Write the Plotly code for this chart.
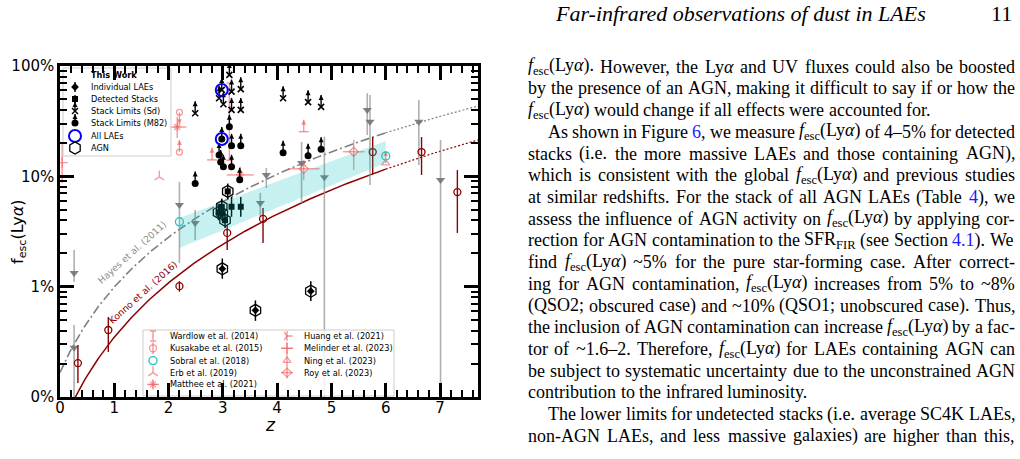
import numpy as np
import plotly.graph_objects as go

# ---------------- data (f_esc in percent) ----------------
# This work: stack lower limits (Sd template)
sd_z = [3.12, 2.98, 3.16, 3.33, 2.93, 3.01, 3.16, 3.33, 2.49, 4.11, 4.57, 4.81]
sd_f = [83.0, 60.7, 58.6, 61.7, 51.0, 45.0, 40.0, 40.0, 37.3, 51.0, 47.0, 42.6]
# This work: stack lower limits (M82 template)
m82_z = [3.12, 2.98, 3.16, 3.33, 2.93, 2.96, 3.01, 3.16, 3.31, 2.49, 4.11, 4.57, 4.81]
m82_f = [28.2, 21.8, 18.9, 18.9, 15.6, 13.5, 12.2, 12.2, 9.3, 8.6, 16.4, 15.4, 17.6]
# This work: all-LAE stacks (blue rings)
all_z = [2.98, 2.98]
all_f = [60.7, 21.8]
# This work: detected stacks
det_z = [3.16, 3.33, 3.09, 2.98, 2.92, 2.99, 3.04]
det_f = [5.3, 5.3, 7.3, 5.3, 4.7, 4.6, 4.0]
det_hi = [6.5, 6.5, 8.6, 6.3, 5.6, 5.4, 4.7]
det_lo = [4.3, 4.3, 6.2, 4.5, 4.0, 3.9, 3.4]
# This work: individual LAEs
ind_z = [2.99, 3.60, 4.62]
ind_f = [1.45, 0.61, 0.91]
ind_hi = [1.80, 0.75, 1.12]
ind_lo = [1.18, 0.49, 0.74]
# AGN (hexagons)
agn_z = [3.09, 2.98, 2.92, 2.99, 3.04, 2.99, 3.60, 4.62]
agn_f = [7.3, 5.3, 4.7, 4.6, 4.0, 1.45, 0.61, 0.91]

# Dark-red literature points
kon_z = [0.33, 0.89, 2.20, 3.08, 3.74, 5.76, 6.66, 7.32]
kon_f = [0.203, 0.405, 1.01, 3.07, 4.11, 16.6, 16.6, 7.2]
kon_hi = [0.296, 0.531, 1.12, 3.6, 5.17, 22.7, 22.7, 11.4]
kon_lo = [0.134, 0.256, 0.90, 2.15, 2.49, 10.5, 10.3, 3.07]

# Grey literature points
gry_z = [0.26, 0.26, 2.20, 2.49, 3.69, 3.80, 4.45, 4.87, 5.66, 5.71, 6.61, 7.01]
gry_f = [1.33, 0.28, 5.5, 3.78, 5.74, 10.3, 13.2, 9.8, 40.0, 31.3, 31.3, 9.27]
gry_hi = [2.15, 0.45, 8.9, 4.95, 7.08, 11.9, 20.5, 22.9, 56.7, 54.7, 49.3, 21.4]
gry_lo = [1.10, 0.05, 1.64, 2.65, 4.28, 7.85, 5.74, 0.05, 23.7, 8.36, 12.7, 0.05]

# Other literature
war_z, war_f, war_hi, war_lo = [3.12], [30.0], [70.0], [14.0]
kus_up_z, kus_up_f = [2.20], [38.0]          # upper limit
kus_lo_z, kus_lo_f = [2.20], [16.6]          # lower limit
sob_z, sob_f = [2.20, 6.00], [3.87, 15.3]
erb_z, erb_f = [1.83], [9.9]
mat_z, mat_f = [2.16, 3.32], [28.0, 10.3]
mat_xe = [0.17, 0.25]
mat_hi, mat_lo = [34.6, 12.2], [22.3, 8.7]
hua_z, hua_f = [2.80, 4.49], [14.1, 25.4]    # lower limits
mel_z, mel_f, mel_hi, mel_lo = [0.04], [13.3], [20.1], [8.7]
nin_z, nin_f = [6.00], [13.2]                # lower limit
roy_z, roy_f = [4.49, 5.41], [11.7, 16.7]
roy_xe = [0.29, 0.2]
roy_hi, roy_lo = [14.1, 21.4], [9.3, 11.4]

# Sobral et al. (2018) band
band_z = [2.2, 6.0]
band_lo = [2.24, 13.2]
band_hi = [4.2, 20.9]

# Model relations f = C (1+z)^xi  [percent]
hayes_C, hayes_xi = 0.167, 2.57
konno_C, konno_xi = 0.05, 2.8

# axis ticks
x_ticks = [0, 1, 2, 3, 4, 5, 6, 7]
y_ticks = [0.1, 1, 10, 100]
y_ticklabels = ["0%", "1%", "10%", "100%"]
y_minor = [0.2, 0.3, 0.4, 0.5, 0.6, 0.7, 0.8, 0.9, 2, 3, 4, 5, 6, 7, 8, 9,
           20, 30, 40, 50, 60, 70, 80, 90]

# ---------------- page geometry ----------------
W, H = 1020, 459
L, R, T, B = 60, 478, 66, 397


def PX(px):
    return (px - L) / (R - L)


def PY(py):
    return (B - py) / (B - T)


BLACK = "#000000"
GREY_M = "rgba(115,115,115,0.9)"
GREY_L = "rgba(150,150,150,0.75)"
DRED = "#8b0000"
PINK = "rgba(240,90,90,0.62)"
CYAN = "#2ec4c4"
ARW = 10 ** (12 / 110.3)  # arrow length factor (12 px on the log axis)

fig = go.Figure()


def yerr(f, hi, lo, color, th=1.5, width=0):
    return dict(type="data", symmetric=False,
                array=[h - v for h, v in zip(hi, f)],
                arrayminus=[v - l for v, l in zip(f, lo)],
                color=color, thickness=th, width=width)


def add(x, y, **kw):
    kw.setdefault("mode", "markers")
    fig.add_trace(go.Scatter(x=x, y=y, showlegend=False, hoverinfo="skip", **kw))


def limits(z, f, color, up=True, th=1.4, size=6):
    if up:
        e = dict(type="data", symmetric=False, array=[v * (ARW - 1) for v in f],
                 arrayminus=[0] * len(f), color=color, thickness=th, width=0)
        add(z, [v * ARW for v in f], marker=dict(symbol="arrow-up", size=size, color=color))
    else:
        e = dict(type="data", symmetric=False, arrayminus=[v * (1 - 1 / ARW) for v in f],
                 array=[0] * len(f), color=color, thickness=th, width=0)
        add(z, [v / ARW for v in f], marker=dict(symbol="arrow-down", size=size, color=color))
    return e


# ---- models ----
zs = np.linspace(0.0, 6.0, 200)
ze = np.linspace(6.0, 7.7, 60)
add(zs, hayes_C * (1 + zs) ** hayes_xi, mode="lines",
    line=dict(color="rgb(128,128,128)", width=1.6, dash="9px,3px,2px,3px"))
add(ze, hayes_C * (1 + ze) ** hayes_xi, mode="lines",
    line=dict(color="rgb(128,128,128)", width=1.2, dash="2px,2px"))
add(zs, konno_C * (1 + zs) ** konno_xi, mode="lines", line=dict(color=DRED, width=1.5))
add(ze, konno_C * (1 + ze) ** konno_xi, mode="lines",
    line=dict(color=DRED, width=1.2, dash="2px,2px"))

# ---- grey points ----
add(gry_z, gry_f, marker=dict(symbol="triangle-down", size=8, color=GREY_M),
    error_y=yerr(gry_f, gry_hi, gry_lo, GREY_L, 1.6))

# ---- dark red points ----
add(kon_z, kon_f, marker=dict(symbol="circle-open", size=7, color=DRED, line=dict(width=1.3)),
    error_y=yerr(kon_f, kon_hi, kon_lo, DRED, 1.4))

# ---- pink literature ----
add(war_z, war_f, marker=dict(size=1, color=PINK),
    error_y=yerr(war_f, war_hi, war_lo, PINK, 1.4, 3))
add(mel_z, mel_f, marker=dict(symbol="cross-thin", size=8, color=PINK, line=dict(width=1.3, color=PINK)),
    error_y=yerr(mel_f, mel_hi, mel_lo, PINK, 1.4))
e = limits(kus_up_z, kus_up_f, PINK, up=False, size=5)
add(kus_up_z, kus_up_f, marker=dict(symbol="circle-open", size=6, color=PINK, line=dict(width=1.3)), error_y=e)
e = limits(kus_lo_z, kus_lo_f, PINK, up=True, size=5)
add(kus_lo_z, kus_lo_f, marker=dict(symbol="circle-open", size=6, color=PINK, line=dict(width=1.3)), error_y=e)
add(erb_z, erb_f, marker=dict(symbol="y-up", size=8, color=PINK, line=dict(width=1.4, color=PINK)))
add(mat_z, mat_f, marker=dict(symbol="asterisk", size=7, color=PINK, line=dict(width=1.2, color=PINK)),
    error_y=yerr(mat_f, mat_hi, mat_lo, PINK, 1.4),
    error_x=dict(type="data", array=mat_xe, color=PINK, thickness=1.4, width=0))
e = limits(hua_z, hua_f, PINK, up=True, size=5)
add(hua_z, hua_f, marker=dict(symbol="line-ew", size=7, color=PINK, line=dict(width=1.5, color=PINK)), error_y=e)
e = limits(nin_z, nin_f, PINK, up=True, size=5)
add(nin_z, nin_f, marker=dict(symbol="triangle-up-open", size=7, color=PINK, line=dict(width=1.3)), error_y=e)
add(roy_z, roy_f, marker=dict(symbol="diamond-open", size=7, color=PINK, line=dict(width=1.3)),
    error_y=yerr(roy_f, roy_hi, roy_lo, PINK, 1.4),
    error_x=dict(type="data", array=roy_xe, color=PINK, thickness=1.4, width=0))

# ---- this work ----
e = limits(sd_z, sd_f, BLACK, up=True, size=5)
add(sd_z, sd_f, marker=dict(symbol="x-thin", size=6, color=BLACK, line=dict(width=1.6, color=BLACK)), error_y=e)
e = limits(m82_z, m82_f, BLACK, up=True, size=5)
add(m82_z, m82_f, marker=dict(symbol="circle", size=7, color=BLACK), error_y=e)
add(det_z, det_f, marker=dict(symbol="square", size=6, color=BLACK),
    error_y=yerr(det_f, det_hi, det_lo, BLACK, 1.5))
add(ind_z, ind_f, marker=dict(symbol="diamond", size=6, color=BLACK),
    error_y=yerr(ind_f, ind_hi, ind_lo, BLACK, 1.5))
add(agn_z, agn_f, marker=dict(symbol="hexagon-open", size=12, color=BLACK, line=dict(width=1.3)))

# ---- Sobral band (drawn over the points) ----
add(band_z + band_z[::-1], band_lo + band_hi[::-1], mode="lines", fill="toself",
    fillcolor="rgba(0,191,191,0.22)", line=dict(width=0))
add(sob_z, sob_f, marker=dict(symbol="circle-open", size=8, color=CYAN, line=dict(width=1.4)))
add(all_z, all_f, marker=dict(symbol="circle-open", size=12, color="#0000ff", line=dict(width=2)))

# ---------------- legends (overlay axes in plot fractions) ----------------


def ladd(px, py, **kw):
    kw.setdefault("mode", "markers")
    fig.add_trace(go.Scatter(x=[PX(px)], y=[PY(py)], xaxis="x2", yaxis="y2",
                             showlegend=False, hoverinfo="skip", **kw))


def lbox(x0, y0, x1, y1):
    fig.add_trace(go.Scatter(x=[PX(x0), PX(x1), PX(x1), PX(x0), PX(x0)],
                             y=[PY(y0), PY(y0), PY(y1), PY(y1), PY(y0)],
                             xaxis="x2", yaxis="y2", mode="lines", fill="toself",
                             fillcolor="rgba(255,255,255,0.82)",
                             line=dict(color="#cccccc", width=1),
                             showlegend=False, hoverinfo="skip"))


def lerr(up_px, dn_px, color, th=1.4, width=0):
    return dict(type="data", symmetric=False, array=[up_px / (B - T)],
                arrayminus=[dn_px / (B - T)], color=color, thickness=th, width=width)


def lerrx(px_, color, th=1.4):
    return dict(type="data", array=[px_ / (R - L)], color=color, thickness=th, width=0)


lbox(63, 68, 171, 156)
lbox(143, 330, 394, 396)

lx = 75
ladd(lx, 87, marker=dict(symbol="diamond", size=6, color=BLACK), error_y=lerr(5, 5, BLACK))
ladd(lx, 99, marker=dict(symbol="square", size=6, color=BLACK), error_y=lerr(4, 4, BLACK))
ladd(lx, 111, marker=dict(symbol="x-thin", size=6, color=BLACK, line=dict(width=1.5, color=BLACK)),
     error_y=lerr(9, 0, BLACK))
ladd(lx, 102, marker=dict(symbol="arrow-up", size=5, color=BLACK))
ladd(lx, 123, marker=dict(symbol="circle", size=7, color=BLACK), error_y=lerr(9, 0, BLACK))
ladd(lx, 114, marker=dict(symbol="arrow-up", size=5, color=BLACK))
ladd(lx, 136, marker=dict(symbol="circle-open", size=12, color="#0000ff", line=dict(width=2)))
ladd(lx, 148, marker=dict(symbol="hexagon-open", size=12, color=BLACK, line=dict(width=1.3)))

c1, c2 = 153, 287
r2 = [336, 348.3, 360.6, 372.6, 384.4]
ladd(c1, r2[0], marker=dict(size=1, color=PINK), error_y=lerr(5, 5, PINK, 1.4, 3))
ladd(c1, r2[1], marker=dict(symbol="circle-open", size=7, color=PINK, line=dict(width=1.3)),
     error_y=lerr(6, 6, PINK))
ladd(c1, r2[2], marker=dict(symbol="circle-open", size=8, color=CYAN, line=dict(width=1.4)))
ladd(c1, r2[3], marker=dict(symbol="y-up", size=8, color=PINK, line=dict(width=1.4, color=PINK)))
ladd(c1, r2[4], marker=dict(symbol="asterisk", size=7, color=PINK, line=dict(width=1.2, color=PINK)),
     error_y=lerr(5, 5, PINK), error_x=lerrx(6, PINK))
ladd(c2, r2[0], marker=dict(symbol="y-right", size=7, color=PINK, line=dict(width=1.4, color=PINK)),
     error_y=lerr(5, 5, PINK))
ladd(c2, r2[1], marker=dict(symbol="cross-thin", size=8, color=PINK, line=dict(width=1.3, color=PINK)),
     error_y=lerr(6, 6, PINK), error_x=lerrx(6, PINK))
ladd(c2, r2[2], marker=dict(symbol="triangle-up-open", size=7, color=PINK, line=dict(width=1.3)),
     error_y=lerr(6, 6, PINK))
ladd(c2, r2[3], marker=dict(symbol="diamond-open", size=7, color=PINK, line=dict(width=1.3)),
     error_y=lerr(6, 6, PINK), error_x=lerrx(6, PINK))

# ---------------- annotations ----------------
ann = []


def A(text, px, py, size, color="black", family="DejaVu Sans", xanchor="left",
      yanchor="middle", angle=0):
    ann.append(dict(text=text, x=PX(px), y=PY(py), xref="paper", yref="paper",
                    showarrow=False, xanchor=xanchor, yanchor=yanchor, textangle=angle,
                    borderpad=0, font=dict(size=size, color=color, family=family)))


LEGFS = 8.2
leg1 = ["<b>This Work</b>", "Individual LAEs", "Detected Stacks", "Stack Limits (Sd)",
        "Stack Limits (M82)", "All LAEs", "AGN"]
leg1_y = [75, 86.7, 99, 111.3, 123.3, 135.7, 147.7]
for t, yy in zip(leg1, leg1_y):
    A(t, 90, yy, LEGFS)
leg2a = ["Wardlow et al. (2014)", "Kusakabe et al. (2015)", "Sobral et al. (2018)",
         "Erb et al. (2019)", "Matthee et al. (2021)"]
leg2b = ["Huang et al. (2021)", "Melinder et al. (2023)", "Ning et al. (2023)", "Roy et al. (2023)"]
for t, yy in zip(leg2a, r2):
    A(t, 169, yy, LEGFS)
for t, yy in zip(leg2b, r2):
    A(t, 303, yy, LEGFS)

A("Konno et al. (2016)", 142.5, 292.5, 9.2, color=DRED, xanchor="center", angle=-42)
A("Hayes et al. (2011)", 131.5, 252.5, 9.2, color="rgb(140,140,140)", xanchor="center", angle=-42)
A("f<sub>esc</sub>(Ly<i>α</i>)", 18, 232, 16, xanchor="center", angle=-90)
A("<i>z</i>", 270, 425, 17, xanchor="center")

# ---------------- page text (right column) ----------------
SERIF = "Liberation Serif"
TR = dict(zip(" !\"#$%&'()*+,-./", [250, 333, 408, 500, 500, 833, 778, 180, 333, 333, 500, 564, 250, 333, 250, 278]))
TR.update({d: 500 for d in "0123456789"})
TR.update({":": 278, ";": 278, "~": 541, "–": 500, "α": 520})
TR.update(dict(zip("ABCDEFGHIJKLMNOPQRSTUVWXYZ",
                   [722, 667, 667, 722, 611, 556, 722, 722, 333, 389, 722, 611, 889, 722, 722, 556, 722,
                    667, 556, 611, 722, 722, 944, 722, 722, 611])))
TR.update(dict(zip("abcdefghijklmnopqrstuvwxyz",
                   [444, 500, 444, 500, 444, 333, 500, 500, 278, 278, 500, 278, 778, 500, 500, 500, 500,
                    333, 389, 278, 500, 500, 722, 500, 500, 444])))

FESC = "<i>f</i><sub>esc</sub>(Ly<i>α</i>)"
LYA = "Ly<i>α</i>"
SFR = "SFR<sub>FIR</sub>"


def link(t):
    return "<span style='color:#1a1aff'>" + t + "</span>"


SUBS = {"{F}": FESC, "{Lya}": LYA, "{SFR}": SFR, "{6}": link("6"), "{4}": link("4"),
        "{4.1}": link("4.1")}
# widths (in em/1000) of the placeholders, as typeset in the page
SUBW = {"{F}": 3400, "{Lya}": 1650, "{SFR}": 1779 + 0.7 * 1556,
        "{6}": 500, "{4}": 500, "{4.1}": 1250}

lines = [
    ("{F}. However, the {Lya} and UV fluxes could also be boosted", True, 0),
    ("by the presence of an AGN, making it difficult to say if or how the", True, 0),
    ("{F} would change if all effects were accounted for.", False, 0),
    ("As shown in Figure {6}, we measure {F} of 4–5% for detected", True, 1),
    ("stacks (i.e. the more massive LAEs and those containing AGN),", True, 0),
    ("which is consistent with the global {F} and previous studies", True, 0),
    ("at similar redshifts. For the stack of all AGN LAEs (Table {4}), we", True, 0),
    ("assess the influence of AGN activity on {F} by applying cor-", True, 0),
    ("rection for AGN contamination to the {SFR} (see Section {4.1}). We", True, 0),
    ("find {F} ~5% for the pure star-forming case. After correct-", True, 0),
    ("ing for AGN contamination, {F} increases from 5% to ~8%", True, 0),
    ("(QSO2; obscured case) and ~10% (QSO1; unobscured case). Thus,", True, 0),
    ("the inclusion of AGN contamination can increase {F} by a fac-", True, 0),
    ("tor of ~1.6–2. Therefore, {F} for LAEs containing AGN can", True, 0),
    ("be subject to systematic uncertainty due to the unconstrained AGN", True, 0),
    ("contribution to the infrared luminosity.", False, 0),
    ("The lower limits for undetected stacks (i.e. average SC4K LAEs,", True, 1),
    ("non-AGN LAEs, and less massive galaxies) are higher than this,", True, 0),
]

FS = 18.0
X0, X1, INDENT = 527.0, 1014.0, 19.7
Y0, DY = 66.7, 21.72


def word_w(w):
    total = 0.0
    rest = w
    for k in sorted(SUBW, key=len, reverse=True):
        while k in rest:
            rest = rest.replace(k, "", 1)
            total += SUBW[k]
    total += sum(TR.get(ch, 500) for ch in rest)
    return total * FS / 1000.0


def render(w):
    for k in sorted(SUBS, key=len, reverse=True):
        w = w.replace(k, SUBS[k])
    return w


for i, (txt, just, ind) in enumerate(lines):
    words = txt.split(" ")
    widths = [word_w(w) for w in words]
    x = X0 + (INDENT if ind else 0)
    if just and len(words) > 1:
        gap = (X1 - x - sum(widths)) / (len(words) - 1)
    else:
        gap = 0.25 * FS
    yy = Y0 + DY * i
    for w, ww in zip(words, widths):
        A(render(w), x, yy, FS, family=SERIF)
        x += ww + gap

A("<i>Far-infrared observations of dust in LAEs</i>", 554, 14, 22, family=SERIF)
A("11", 1013, 14, 22, family=SERIF, xanchor="right")

# ---------------- layout ----------------
axis_common = dict(showline=True, linecolor=BLACK, linewidth=2.5, mirror="ticks",
                   ticks="inside", ticklen=14, tickwidth=2.5, tickcolor=BLACK,
                   showgrid=False, zeroline=False,
                   tickfont=dict(size=15, color=BLACK, family="DejaVu Sans"))
fig.update_layout(
    width=W, height=H, autosize=False,
    margin=dict(l=L, r=W - R, t=T, b=H - B, autoexpand=False),
    paper_bgcolor="white", plot_bgcolor="white",
    font=dict(family="DejaVu Sans", color=BLACK),
    xaxis=dict(range=[0, 7.7], tickvals=x_ticks, ticklabelstandoff=-5,
               minor=dict(ticks="inside", ticklen=7, tickwidth=1.8, tickcolor=BLACK,
                          dtick=0.2, tick0=0, showgrid=False),
               **axis_common),
    yaxis=dict(type="log", range=[-1, 2], tickvals=y_ticks, ticktext=y_ticklabels,
               minor=dict(ticks="inside", ticklen=7, tickwidth=1.8, tickcolor=BLACK,
                          tickvals=y_minor, showgrid=False),
               **axis_common),
    xaxis2=dict(overlaying="x", range=[0, 1], visible=False),
    yaxis2=dict(overlaying="y", range=[0, 1], visible=False),
    annotations=ann,
    showlegend=False,
)

fig.write_html("out.html")
